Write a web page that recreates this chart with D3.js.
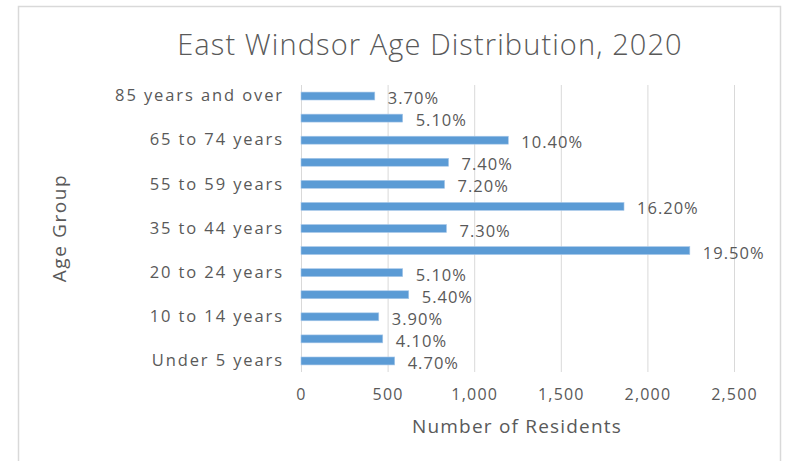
<!DOCTYPE html>
<html>
<head>
<meta charset="utf-8">
<script src="https://cdn.jsdelivr.net/npm/d3@7"></script>
<style>
  body { margin: 0; background: #fff; }
  text { font-family: "Open Sans", sans-serif; fill: #595959; }
</style>
</head>
<body>
<div id="chart"></div>
<script>
// age groups, bottom to top
var ageGroups = ["Under 5 years", "5 to 9 years", "10 to 14 years", "15 to 19 years",
  "20 to 24 years", "25 to 34 years", "35 to 44 years", "45 to 54 years",
  "55 to 59 years", "60 to 64 years", "65 to 74 years", "75 to 84 years",
  "85 years and over"];
var residents = [541, 472, 449, 622, 587, 2245, 840, 1865, 829, 852, 1197, 587, 426];
var shareLabels = ["4.70%", "4.10%", "3.90%", "5.40%", "5.10%", "19.50%", "7.30%",
  "16.20%", "7.20%", "7.40%", "10.40%", "5.10%", "3.70%"];
var xTicks = [0, 500, 1000, 1500, 2000, 2500];

var svgWidth = 786;
var svgHeight = 461;

var margin = { top: 85, right: 52, bottom: 89, left: 301 };
var chartWidth = svgWidth - margin.left - margin.right;
var chartHeight = svgHeight - margin.top - margin.bottom;

var svg = d3.select("#chart")
  .append("svg")
  .attr("width", svgWidth)
  .attr("height", svgHeight);

// chart frame (bottom edge is cut off)
svg.append("path")
  .attr("d", "M18.5,461 V6.5 H780.5 V461")
  .attr("fill", "none")
  .attr("stroke", "#d9d9d9")
  .attr("stroke-width", 1.5);

var chartGroup = svg.append("g")
  .attr("transform", `translate(${margin.left}, ${margin.top})`);

var xScale = d3.scaleLinear()
  .domain([0, 2500])
  .range([0, 433]);

var yScale = d3.scaleBand()
  .domain(ageGroups.slice().reverse())
  .range([0, chartHeight])
  .paddingInner(0.64)
  .paddingOuter(0.32);

// gridlines
chartGroup.selectAll(".grid")
  .data(xTicks)
  .enter()
  .append("line")
  .attr("x1", d => xScale(d) + 0.5)
  .attr("x2", d => xScale(d) + 0.5)
  .attr("y1", 0)
  .attr("y2", chartHeight)
  .attr("stroke", "#d9d9d9")
  .attr("stroke-width", 1);

// x axis labels
var bottomAxis = d3.axisBottom(xScale)
  .tickValues(xTicks)
  .tickFormat(d3.format(","))
  .tickSize(0)
  .tickPadding(17);

var xAxisG = chartGroup.append("g")
  .attr("transform", `translate(0, ${chartHeight})`)
  .call(bottomAxis);
xAxisG.select(".domain").remove();
xAxisG.selectAll("text")
  .attr("font-size", "16px")
  .attr("font-family", null)
  .attr("letter-spacing", "1.2px")
  .attr("fill", "#595959");

// y axis labels, every other one
var leftAxis = d3.axisLeft(yScale)
  .tickValues(ageGroups.filter((d, i) => i % 2 == 0))
  .tickSize(0)
  .tickPadding(17);

var yAxisG = chartGroup.append("g")
  .call(leftAxis);
yAxisG.select(".domain").remove();
yAxisG.selectAll("text")
  .attr("font-size", "16.5px")
  .attr("font-family", null)
  .attr("letter-spacing", "1.9px")
  .attr("fill", "#595959");

// bars
chartGroup.selectAll(".bar")
  .data(residents)
  .enter()
  .append("rect")
  .attr("x", 0)
  .attr("y", (d, i) => yScale(ageGroups[i]))
  .attr("width", d => xScale(d))
  .attr("height", yScale.bandwidth())
  .attr("fill", "#5b9bd5")
  .attr("stroke", "#a9c9ea")
  .attr("stroke-width", 0.6);

// data labels
chartGroup.selectAll(".label")
  .data(residents)
  .enter()
  .append("text")
  .attr("x", d => xScale(d) + 13)
  .attr("y", (d, i) => yScale(ageGroups[i]) + yScale.bandwidth() / 2 + 8)
  .attr("font-size", "16.5px")
  .attr("letter-spacing", "1px")
  .text((d, i) => shareLabels[i]);

// title
svg.append("text")
  .attr("x", 430)
  .attr("y", 55)
  .attr("text-anchor", "middle")
  .attr("font-size", "29px")
  .attr("font-weight", 300)
  .attr("letter-spacing", "1.1px")
  .text("East Windsor Age Distribution, 2020");

// axis titles
svg.append("text")
  .attr("x", 517)
  .attr("y", 433)
  .attr("text-anchor", "middle")
  .attr("font-size", "19px")
  .attr("letter-spacing", "1.2px")
  .text("Number of Residents");

svg.append("text")
  .attr("transform", "translate(66, 228) rotate(-90)")
  .attr("text-anchor", "middle")
  .attr("font-size", "19px")
  .attr("letter-spacing", "1.6px")
  .text("Age Group");
</script>
</body>
</html>
